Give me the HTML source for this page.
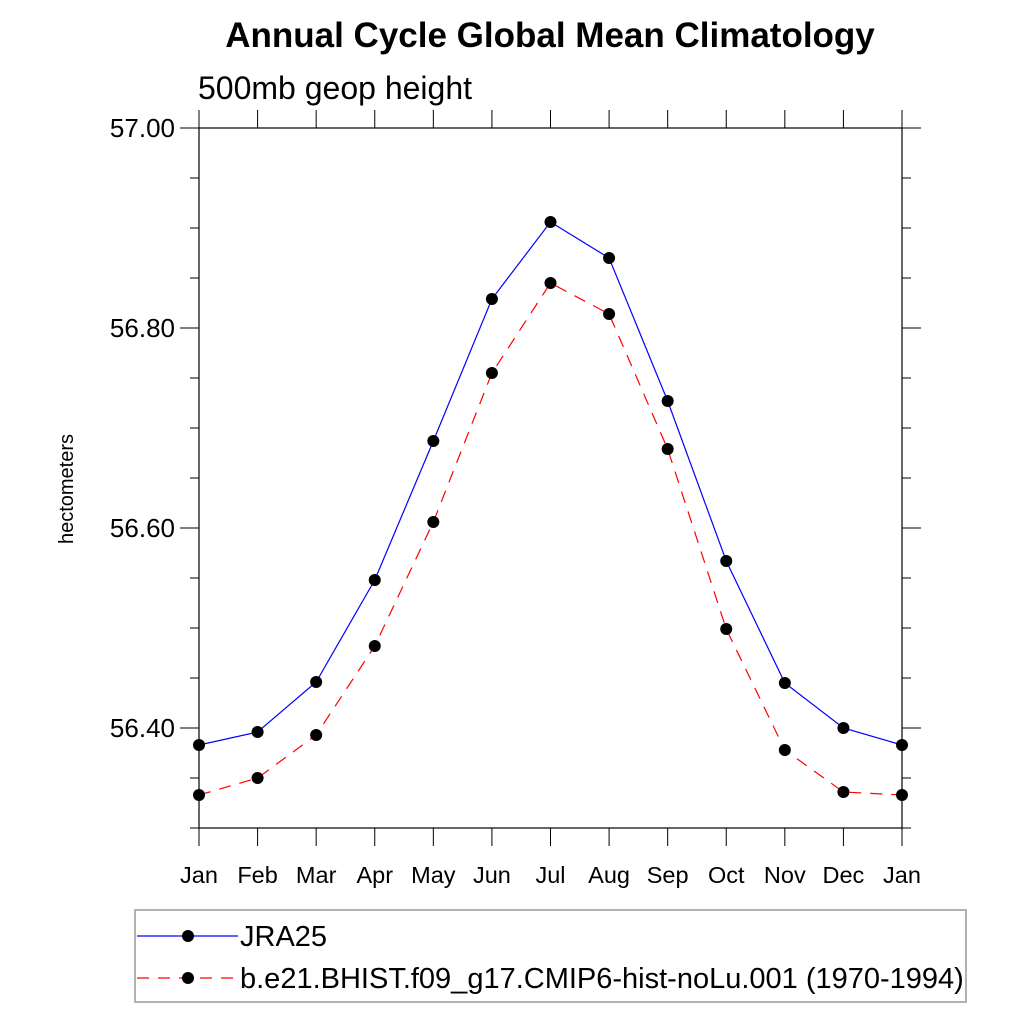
<!DOCTYPE html>
<html><head><meta charset="utf-8"><style>
body{margin:0;background:#fff}
svg{display:block;font-family:"Liberation Sans",sans-serif}
</style></head><body>
<svg id="chart" width="1024" height="1024" viewBox="0 0 1024 1024">
<text x="550" y="47" text-anchor="middle" font-size="35" font-weight="bold">Annual Cycle Global Mean Climatology</text>
<text x="198" y="99" font-size="32">500mb geop height</text>
<text transform="translate(73,489) rotate(-90)" text-anchor="middle" font-size="20">hectometers</text>
<g id="axes"></g>
<g id="series"></g>
<g>
<rect x="135" y="910" width="831" height="92" fill="#fff" stroke="#999" stroke-width="1.5"/>
<g>
<line x1="137" y1="936" x2="238" y2="936" stroke="#00f" stroke-width="1.2"/>
<circle cx="188" cy="936" r="6" fill="#000"/>
<text x="240" y="946" font-size="29">JRA25</text></g>
<g>
<line x1="137" y1="978" x2="238" y2="978" stroke="#f00" stroke-width="1.2" stroke-dasharray="12,9"/>
<circle cx="188" cy="978" r="6" fill="#000"/>
<text x="240" y="988" font-size="29">b.e21.BHIST.f09_g17.CMIP6-hist-noLu.001 (1970-1994)</text></g>
</g>
</svg>
<script>
const months=["Jan","Feb","Mar","Apr","May","Jun","Jul","Aug","Sep","Oct","Nov","Dec","Jan"];
const jra25=[56.383,56.396,56.446,56.548,56.687,56.829,56.906,56.870,56.727,56.567,56.445,56.400,56.383];
const model=[56.333,56.350,56.393,56.482,56.606,56.755,56.845,56.814,56.679,56.499,56.378,56.336,56.333];
const yTicks=[56.40,56.60,56.80,57.00];
const yMin=56.30,yMax=57.00;
const L=199,R=902,T=128,B=828;
const NS="http://www.w3.org/2000/svg";
function xs(i){return L+(R-L)*i/(months.length-1);}
function ys(v){return B-(v-yMin)/(yMax-yMin)*(B-T);}
function mk(tag,attrs,parent){const e=document.createElementNS(NS,tag);for(const k in attrs)e.setAttribute(k,attrs[k]);parent.appendChild(e);return e;}
const axes=document.getElementById('axes');
const frame=mk('rect',{x:L,y:T,width:R-L,height:B-T,fill:'none',stroke:'#000','stroke-width':1.2},axes);


for(let k=0;k<=14;k++){const v=yMin+k*0.05,y=ys(v);const major=yTicks.some(t=>Math.abs(t-v)<1e-6);const len=major?19:9;
mk('line',{x1:L-len,y1:y,x2:L,y2:y,stroke:'#000','stroke-width':1},axes);
mk('line',{x1:R,y1:y,x2:R+len,y2:y,stroke:'#000','stroke-width':1},axes);}
yTicks.forEach(v=>{const t=mk('text',{x:L-24,y:ys(v)+9,'text-anchor':'end','font-size':26},axes);t.textContent=v.toFixed(2);

});
months.forEach((m,i)=>{const x=xs(i);
mk('line',{x1:x,y1:B,x2:x,y2:B+18,stroke:'#000','stroke-width':1},axes);
mk('line',{x1:x,y1:T-18,x2:x,y2:T,stroke:'#000','stroke-width':1},axes);
const t=mk('text',{x:x,y:883,'text-anchor':'middle','font-size':23.5},axes);t.textContent=m;

});
const ser=document.getElementById('series');
function draw(vals,color,dash,name){
const pts=vals.map((v,i)=>xs(i)+','+ys(v)).join(' ');
const pl=mk('polyline',{points:pts,fill:'none',stroke:color,'stroke-width':1.2},ser);
if(dash)pl.setAttribute('stroke-dasharray',dash);


vals.forEach((v,i)=>{const c=mk('circle',{cx:xs(i),cy:ys(v),r:6,fill:'#000'},ser);

});}
draw(model,'#f00','12,9','model');
draw(jra25,'#00f',null,'jra25');
</script>
</body></html>
